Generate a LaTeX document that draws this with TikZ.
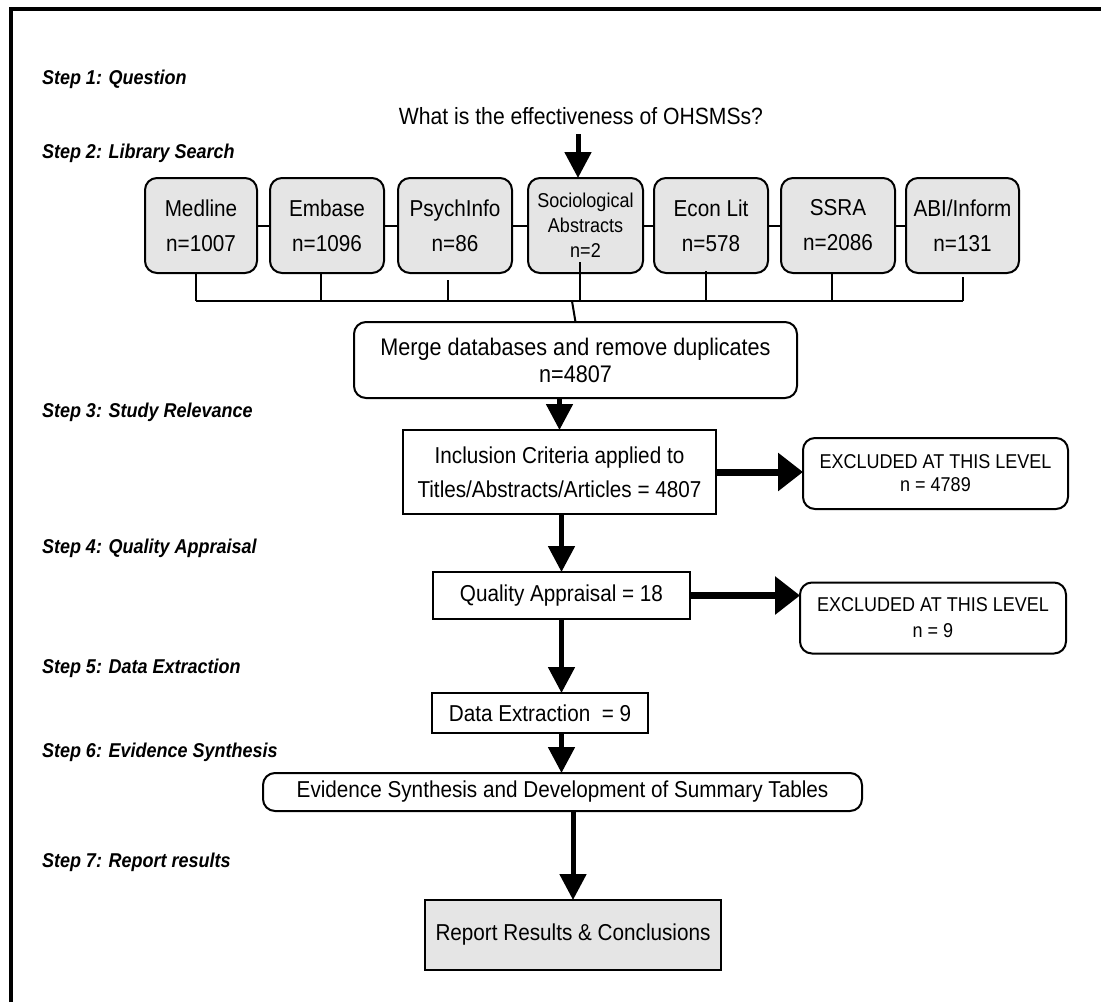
\documentclass[tikz,border=0pt]{standalone}
\usepackage{fontspec}
\setmainfont[FakeStretch=0.9]{Liberation Sans}
\usetikzlibrary{arrows.meta}
\begin{document}
\begin{tikzpicture}[x=1pt,y=-1pt,
  every node/.style={inner sep=0pt, outer sep=0pt},
  box/.style={draw, line width=2pt, align=center, anchor=center, fill=white},
  dbbox/.style={box, rounded corners=12pt, fill=black!10, minimum width=114pt, minimum height=95pt, font=\fontsize{23}{35}\selectfont},
  roundbox/.style={box, rounded corners=12pt},
  steplabel/.style={anchor=west, font=\fontsize{20}{22}\selectfont\bfseries\itshape},
  conn/.style={line width=2pt},
  varrow/.style={line width=5pt, -{Triangle[width=26pt,length=26pt]}},
  harrow/.style={line width=7pt, -{Triangle[width=37pt,length=25pt]}}
]
\useasboundingbox (0,0) rectangle (1101,1002);
\draw[line width=4pt, line join=miter] (11,1002) -- (11,9) -- (1101,9);

% step labels
\node[steplabel] (s1) at (42,79) {Step 1: Question};
\node[steplabel] (s2) at (42,153) {Step 2: Library Search};
\node[steplabel] (s3) at (42,412) {Step 3: Study Relevance};
\node[steplabel] (s4) at (42,548) {Step 4: Quality Appraisal};
\node[steplabel] (s5) at (42,668) {Step 5: Data Extraction};
\node[steplabel] (s6) at (42,752) {Step 6: Evidence Synthesis};
\node[steplabel] (s7) at (42,862) {Step 7: Report results};

% question
\node[font=\fontsize{23.5}{25}\selectfont] (question) at (581,116) {What is the effectiveness of OHSMSs?};

% databases
\node[dbbox, minimum width=112pt] (medline) at (201,225.5) {Medline\\n=1007};
\node[dbbox] (embase) at (327,225.5) {Embase\\n=1096};
\node[dbbox] (psych) at (455,225.5) {PsychInfo\\n=86};
\node[dbbox, minimum width=115pt, font=\fontsize{20}{25}\selectfont] (socio) at (585.5,225.5) {Sociological\\Abstracts\\n=2};
\node[dbbox] (econ) at (711,225.5) {Econ Lit\\n=578};
\node[dbbox] (ssra) at (838,225.5) {SSRA\\n=2086};
\node[dbbox, minimum width=113pt] (abi) at (962.5,225.5) {ABI/Inform\\n=131};

\coordinate (qstart) at (578,134);
\draw[varrow] (qstart) -- (qstart |- socio.north);

% links between boxes
\draw[conn] (medline.east) -- (embase.west);
\draw[conn] (embase.east) -- (psych.west);
\draw[conn] (psych.east) -- (socio.west);
\draw[conn] (socio.east) -- (econ.west);
\draw[conn] (econ.east) -- (ssra.west);
\draw[conn] (ssra.east) -- (abi.west);

% bus
\coordinate (busL) at (196,301);
\coordinate (busR) at (963,301);
\coordinate (busM) at (572,301);
\draw[conn] (busL) -- (busR);
\draw[conn] ([xshift=-5pt]medline.south) -- ([xshift=-5pt]medline.south |- busL);
\draw[conn] ([xshift=-6pt]embase.south) -- ([xshift=-6pt]embase.south |- busL);
\draw[conn] ([xshift=-7pt,yshift=-7pt]psych.south) -- ([xshift=-7pt]psych.south |- busL);
\draw[conn] ([xshift=-6pt,yshift=11pt]socio.south) -- ([xshift=-6pt]socio.south |- busL);
\draw[conn] ([xshift=-5pt,yshift=2pt]econ.south) -- ([xshift=-5pt]econ.south |- busL);
\draw[conn] ([xshift=-6pt]ssra.south) -- ([xshift=-6pt]ssra.south |- busL);
\draw[conn] ([xshift=0.5pt,yshift=-4pt]abi.south) -- ([xshift=0.5pt]abi.south |- busL);

% merge
\node[roundbox, minimum width=443pt, minimum height=76pt, font=\fontsize{24}{27}\selectfont] (merge) at (575.5,360) {Merge databases and remove duplicates\\n=4807};
\draw[conn] (busM) -- (merge.north);

% inclusion
\node[box, minimum width=313pt, minimum height=84pt, font=\fontsize{23}{34}\selectfont] (incl) at (559.5,472) {Inclusion Criteria applied to\\Titles/Abstracts/Articles = 4807};
\draw[varrow] (merge.south -| incl.north) -- (incl.north);

\node[roundbox, minimum width=265pt, minimum height=71pt, font=\fontsize{20}{23}\selectfont] (excl1) at (935.5,473.5) {EXCLUDED AT THIS LEVEL\\n = 4789};
\draw[harrow] (incl.east) -- (incl.east -| excl1.west);

% quality
\node[box, minimum width=257pt, minimum height=47pt, font=\fontsize{23}{25}\selectfont] (qual) at (561.5,595.5) {Quality Appraisal = 18};
\draw[varrow] (incl.south -| qual.north) -- (qual.north);

\node[roundbox, minimum width=266pt, minimum height=71pt, font=\fontsize{20}{26}\selectfont] (excl2) at (933,618) {EXCLUDED AT THIS LEVEL\\n = 9};
\draw[harrow] (qual.east) -- (qual.east -| excl2.west);

% data extraction
\node[box, minimum width=216pt, minimum height=40pt, font=\fontsize{23}{25}\selectfont] (data) at (540,713) {Data Extraction~ = 9};
\draw[varrow] (qual.south) -- (qual.south |- data.north);

% evidence
\node[roundbox, minimum width=599pt, minimum height=38pt, font=\fontsize{23}{25}\selectfont] (evid) at (562.5,792) {Evidence Synthesis and Development of Summary Tables};
\draw[varrow] (qual.south |- data.south) -- (qual.south |- evid.north);

% report
\node[box, fill=black!10, minimum width=296pt, minimum height=70pt, font=\fontsize{23}{25}\selectfont] (report) at (573,935) {Report Results \& Conclusions};
\draw[varrow] (report.north |- evid.south) -- (report.north);
\end{tikzpicture}
\end{document}
